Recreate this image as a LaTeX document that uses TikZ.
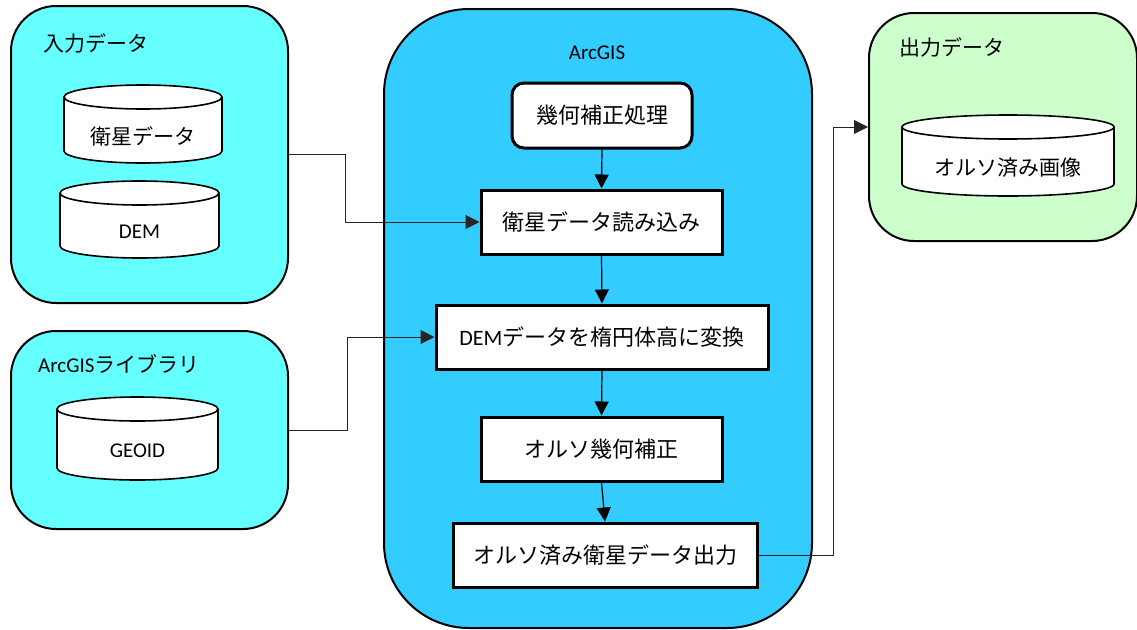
\documentclass[tikz,border=0pt]{standalone}
\usepackage{fontspec}
\setmainfont{Carlito}
\newfontfamily\jp{Noto Sans CJK JP}
\usetikzlibrary{arrows.meta}
\definecolor{incyan}{RGB}{102,255,255}
\definecolor{arcblue}{RGB}{51,204,255}
\definecolor{outgreen}{RGB}{204,255,204}
\newcommand{\dbcyl}[6]{%
  \pgfmathsetmacro\cylcx{(#2+#3)/2}%
  \pgfmathsetmacro\cylrx{(#3-#2)/2}%
  \pgfmathsetmacro\cylyt{-(#4)-12}%
  \pgfmathsetmacro\cylyb{-(#5)+12}%
  \pgfmathsetmacro\cylyc{-(#4+24+#5)/2}%
  \draw[cyl] (#2,\cylyb) -- (#2,\cylyt) arc[start angle=180,end angle=0,x radius=\cylrx,y radius=12] -- (#3,\cylyb) arc[start angle=0,end angle=-180,x radius=\cylrx,y radius=12] -- cycle;
  \draw[cyl] (#2,\cylyt) arc[start angle=180,end angle=360,x radius=\cylrx,y radius=12];
  \node[cyltext] (#1) at (\cylcx,\cylyc) {#6};
}
\begin{document}
\begin{tikzpicture}[x=1pt,y=1pt,
  container/.style={draw=black, line width=2pt, anchor=north west, inner sep=0pt},
  procbox/.style={draw=black, line width=3pt, fill=white, anchor=north west, inner sep=0pt, font=\fontsize{22}{26}\selectfont},
  flow/.style={line width=1.2pt, -{Triangle[length=14pt,width=14pt]}},
  link/.style={line width=1pt, draw=black!85, -{Triangle[length=14pt,width=14pt]}},
  title/.style={anchor=west, inner sep=0pt, font=\fontsize{21}{25}\selectfont},
  cyl/.style={draw=black, line width=1.6pt, fill=white},
  cyltext/.style={inner sep=0pt, font=\fontsize{21}{25}\selectfont}
]
\useasboundingbox (0,0) rectangle (1137,-629);
\fill[white] (0,0) rectangle (1137,-629);

% containers
\node[container, fill=incyan, rounded corners=45pt, minimum width=277pt, minimum height=297pt] (in) at (10,-5) {};
\node[container, fill=incyan, rounded corners=45pt, minimum width=277pt, minimum height=198pt] (lib) at (10,-330) {};
\node[container, fill=arcblue, rounded corners=85pt, minimum width=428pt, minimum height=619pt] (arc) at (383,-8) {};
\node[container, fill=outgreen, rounded corners=45pt, minimum width=268pt, minimum height=228pt] (out) at (868,-12) {};

% titles
\node[title] (tin) at (43,-43) {\jp 入力データ};
\node[title] (tlib) at (38,-364) {ArcGIS{\jp ライブラリ}};
\node[title] (tout) at (899,-47) {\jp 出力データ};
\node[title, anchor=center] (tarc) at (597,-53) {ArcGIS};

% cylinders
\dbcyl{c1}{64}{222}{85}{163}{\jp 衛星データ}
\dbcyl{c2}{60}{219}{181}{258}{DEM}
\dbcyl{c3}{57}{218}{397}{480}{GEOID}
\dbcyl{c4}{902}{1114}{115}{196}{\jp オルソ済み画像}

% process boxes
\node[procbox, rounded corners=12pt, minimum width=180pt, minimum height=65pt] (p1) at (510.5,-81.5) {\jp 幾何補正処理};
\node[procbox, minimum width=241pt, minimum height=64pt] (p2) at (479.5,-188.5) {\jp 衛星データ読み込み};
\node[procbox, minimum width=332pt, minimum height=64pt] (p3) at (434.5,-303.5) {DEM{\jp データを楕円体高に変換}};
\node[procbox, minimum width=241pt, minimum height=64pt] (p4) at (479.5,-415.5) {\jp オルソ幾何補正};
\node[procbox, minimum width=304pt, minimum height=64pt] (p5) at (451.5,-521.5) {\jp オルソ済み衛星データ出力};

% flow arrows
\draw[flow] (p1.south) -- (p2.north);
\draw[flow] (p2.south) -- (p3.north);
\draw[flow] (p3.south) -- (p4.north);
\draw[flow] (p4.south) -- (p5.north);

% links
\draw[link] (in.east) -- ++(56,0) |- (p2.west);
\draw[link] (lib.east) -- ++(58,0) |- (p3.west);
\draw[link] (p5.east) -- ++(75,0) |- (out.west);
\end{tikzpicture}
\end{document}
